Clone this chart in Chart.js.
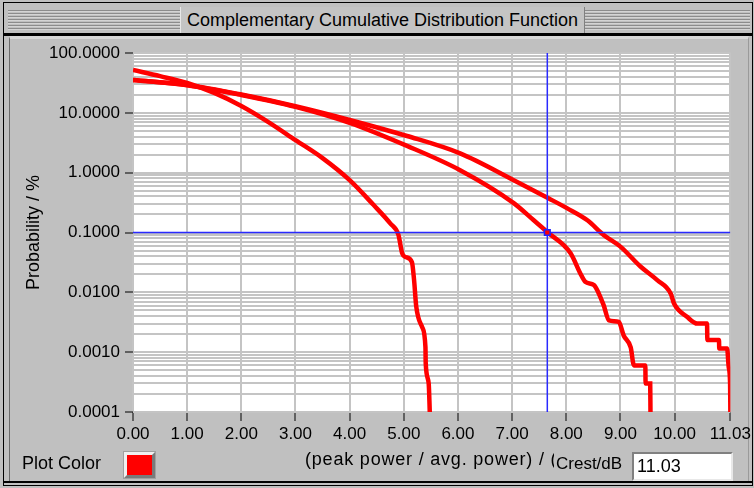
<!DOCTYPE html>
<html>
<head>
<meta charset="utf-8">
<title>Complementary Cumulative Distribution Function</title>
<script src="https://cdn.jsdelivr.net/npm/chart.js@4.4.1/dist/chart.umd.min.js"></script>
<style>
  html, body {
    margin: 0;
    padding: 0;
  }
  body {
    position: relative;
    width: 754px;
    height: 488px;
    overflow: hidden;
    background: #c0c0c0;
    font-family: "Liberation Sans", Arial, sans-serif;
    color: #000;
  }
  .abs {
    position: absolute;
    box-sizing: border-box;
  }
  .outer {
    left: 3px;
    top: 2px;
    width: 750px;
    height: 484px;
    border: 1px solid #000;
  }
  .titlebar {
    left: 4px;
    top: 3px;
    width: 748px;
    height: 30px;
    background: #c0c0c0;
  }
  .grooves {
    left: 8px;
    top: 10px;
    width: 742px;
    height: 21px;
    background: repeating-linear-gradient(to bottom, #8c8c8c 0 1px, #d4d4d4 1px 2px, #c0c0c0 2px 3px);
  }
  .title {
    left: 180px;
    top: 7px;
    width: 405px;
    height: 26px;
    background: #c4c4c4;
    border-left: 1px solid #e8e8e8;
    border-right: 1px solid #808080;
    font-size: 18px;
    line-height: 26px;
    text-align: center;
    white-space: nowrap;
  }
  .title-rule {
    left: 4px;
    top: 33px;
    width: 748px;
    height: 3px;
    background: #000;
  }
  .panel {
    left: 9px;
    top: 36px;
    width: 740px;
    height: 445px;
    border-left: 1px solid #6a6a6a;
    border-top: 3px solid #d8d8d8;
    border-right: 1px solid #9a9a9a;
  }
  .bottom-rule {
    left: 4px;
    top: 481px;
    width: 748px;
    height: 2px;
    background: #000;
  }
  .plot-color {
    left: 22px;
    top: 453px;
    font-size: 18px;
    white-space: nowrap;
  }
  .swatch {
    left: 124px;
    top: 452px;
    width: 31px;
    height: 26px;
    border: 3px solid;
    border-color: #f0f0f0 #7a7a7a #7a7a7a #f0f0f0;
    background: #ff0000;
    outline: 1px solid #a0a0a0;
  }
  .x-title {
    left: 305px;
    top: 449px;
    font-size: 18px;
    letter-spacing: 0.8px;
    white-space: nowrap;
  }
  .crest-label {
    left: 554px;
    top: 452px;
    height: 28px;
    padding: 2px 0 0 2px;
    background: #c0c0c0;
    font-size: 17px;
    white-space: nowrap;
  }
  .crest-box {
    left: 632px;
    top: 452px;
    width: 101px;
    height: 29px;
    background: #fff;
    border: 2px solid;
    border-color: #808080 #e8e8e8 #e8e8e8 #808080;
    font-size: 18px;
    line-height: 25px;
    padding-left: 3px;
  }
  #ccdf {
    position: absolute;
    left: 0;
    top: 0;
  }
</style>
</head>
<body>
<div class="abs outer"></div>
<div class="abs titlebar"></div>
<div class="abs grooves"></div>
<div class="abs title">Complementary Cumulative Distribution Function</div>
<div class="abs title-rule"></div>
<div class="abs panel"></div>
<div class="abs bottom-rule"></div>

<canvas id="ccdf" width="754" height="488"></canvas>

<div class="abs plot-color">Plot Color</div>
<div class="abs swatch"></div>
<div class="abs x-title">(peak power / avg. power) / (dB)</div>
<div class="abs crest-label">Crest/dB</div>
<div class="abs crest-box">11.03</div>

<script>
  // CCDF traces: crest factor in dB against probability in %
  // steps in the sparse tail sit 0.005 dB apart so the monotone spline keeps them square
  const crestA = [0, 0.5, 1.0, 1.5, 2.0, 2.5, 3.0, 3.5, 4.0, 4.44, 4.75, 4.90, 4.97, 5.03, 5.15, 5.19, 5.23, 5.34, 5.40, 5.405, 5.46, 5.48];
  const probA = [52, 41, 31.5, 21.5, 13, 7, 3.5, 1.75, 0.75, 0.29, 0.142, 0.092, 0.045, 0.039, 0.032, 0.016, 0.0058, 0.0026, 0.0012, 0.00065, 0.0003, 0.0001];

  const crestB = [0, 1.0, 2.0, 3.0, 4.0, 5.06, 6.04, 7.03, 7.40, 7.66, 8.08, 8.26, 8.35, 8.51, 8.60, 8.69, 8.79, 8.97, 9.06, 9.19, 9.25, 9.46, 9.465, 9.55, 9.555];
  const probB = [35.4, 29, 19.9, 12.6, 6.8, 2.8, 1.1, 0.31, 0.16, 0.1, 0.045, 0.0207, 0.015, 0.0132, 0.0096, 0.0061, 0.0034, 0.0032, 0.0019, 0.0012, 0.0006, 0.0006, 0.0003, 0.0003, 0.0001];

  const crestC = [0, 1.0, 2.0, 3.0, 4.0, 5.06, 6.04, 7.03, 7.68, 8.02, 8.39, 8.69, 9.00, 9.37, 9.68, 9.93, 9.99, 10.23, 10.42, 10.60, 10.605, 10.82, 10.825, 10.97, 11.00, 11.025, 11.03];
  const probC = [35.4, 29.2, 20.2, 12.9, 7.6, 4.1, 2.1, 0.75, 0.37, 0.253, 0.16, 0.091, 0.058, 0.027, 0.016, 0.0095, 0.0065, 0.0039, 0.003, 0.003, 0.0016, 0.0016, 0.00115, 0.00115, 0.00056, 0.0003, 0.0001];

  const xTicks = [0, 1, 2, 3, 4, 5, 6, 7, 8, 9, 10, 11.03];
  const yDecades = [0.0001, 0.001, 0.01, 0.1, 1, 10, 100];

  const cursorX = 7.65;
  const cursorY = 0.1;

  const xMin = 0;
  const xMax = 11.03;
  const yMin = 0.0001;
  const yMax = 100;

  function toPoints(xs, ys) {
    return xs.map((x, i) => ({ x, y: ys[i] }));
  }

  function isDecade(value) {
    const exp = Math.log10(value);
    return Math.abs(exp - Math.round(exp)) < 1e-6;
  }

  // every 1..9 step inside each decade gets a grid line
  function logGridValues() {
    const out = [];
    for (let d = 0; d < yDecades.length - 1; d++) {
      for (let m = 1; m < 10; m++) {
        out.push(Number((yDecades[d] * m).toPrecision(3)));
      }
    }
    out.push(yDecades[yDecades.length - 1]);
    return out;
  }

  const plotBackground = {
    id: "plotBackground",
    beforeDraw(chart) {
      const { ctx, chartArea } = chart;
      ctx.save();
      ctx.fillStyle = "#ffffff";
      ctx.fillRect(chartArea.left, chartArea.top, chartArea.right - chartArea.left, chartArea.bottom - chartArea.top);
      ctx.restore();
    },
  };

  Chart.defaults.font.family = '"Liberation Sans", Arial, sans-serif';
  Chart.defaults.color = "#000";

  const traceStyle = {
    borderColor: "#ff0000",
    borderWidth: 4.5,
    pointRadius: 0,
    cubicInterpolationMode: "monotone",
    fill: false,
    order: 2,
  };

  new Chart(document.getElementById("ccdf"), {
    type: "line",
    data: {
      datasets: [
        {
          label: "cursor marker",
          data: [{ x: cursorX, y: cursorY }],
          showLine: false,
          pointStyle: "rect",
          pointRadius: 4,
          pointBackgroundColor: "#ff0000",
          pointBorderColor: "#2020ff",
          pointBorderWidth: 1.5,
          order: 0,
        },
        {
          label: "cursor x",
          data: [{ x: cursorX, y: yMin }, { x: cursorX, y: yMax }],
          borderColor: "#2a2aff",
          borderWidth: 1.5,
          pointRadius: 0,
          order: 1,
        },
        {
          label: "cursor y",
          data: [{ x: xMin, y: cursorY }, { x: xMax, y: cursorY }],
          borderColor: "#2a2aff",
          borderWidth: 1.5,
          pointRadius: 0,
          order: 1,
        },
        { label: "A", data: toPoints(crestA, probA), ...traceStyle },
        { label: "B", data: toPoints(crestB, probB), ...traceStyle },
        { label: "C", data: toPoints(crestC, probC), ...traceStyle },
      ],
    },
    options: {
      responsive: false,
      animation: false,
      events: [],
      layout: {
        padding: { top: 53, right: 23, bottom: 46, left: 19 },
      },
      plugins: {
        legend: { display: false },
        tooltip: { enabled: false },
      },
      scales: {
        x: {
          type: "linear",
          min: xMin,
          max: xMax,
          afterBuildTicks(scale) {
            scale.ticks = xTicks.map((v) => ({ value: v }));
          },
          afterFit(scale) {
            scale.height = 30;
          },
          border: { display: false },
          grid: {
            color: "#c4c4c4",
            lineWidth: 2,
            tickColor: "#000",
            tickLength: 9,
            tickWidth: 1,
          },
          ticks: {
            autoSkip: false,
            maxRotation: 0,
            padding: 3,
            font: { size: 17 },
            callback: (value) => Number(value).toFixed(2),
          },
        },
        y: {
          type: "logarithmic",
          min: yMin,
          max: yMax,
          afterBuildTicks(scale) {
            scale.ticks = logGridValues().map((v) => ({ value: v, major: isDecade(v) }));
          },
          afterFit(scale) {
            scale.width = 114;
          },
          border: { display: false },
          grid: {
            color: "#c4c4c4",
            lineWidth: 2,
            tickLength: 8,
            tickWidth: 1,
            tickColor: (ctx) => (ctx.tick && isDecade(ctx.tick.value) ? "#000" : "rgba(0,0,0,0)"),
          },
          ticks: {
            autoSkip: false,
            padding: 5,
            font: { size: 17 },
            callback: (value) => (isDecade(value) ? Number(value).toFixed(4) : ""),
          },
          title: {
            display: true,
            text: "Probability / %",
            font: { size: 18 },
            padding: { top: 4, bottom: 4 },
          },
        },
      },
    },
    plugins: [plotBackground],
  });
</script>
</body>
</html>
